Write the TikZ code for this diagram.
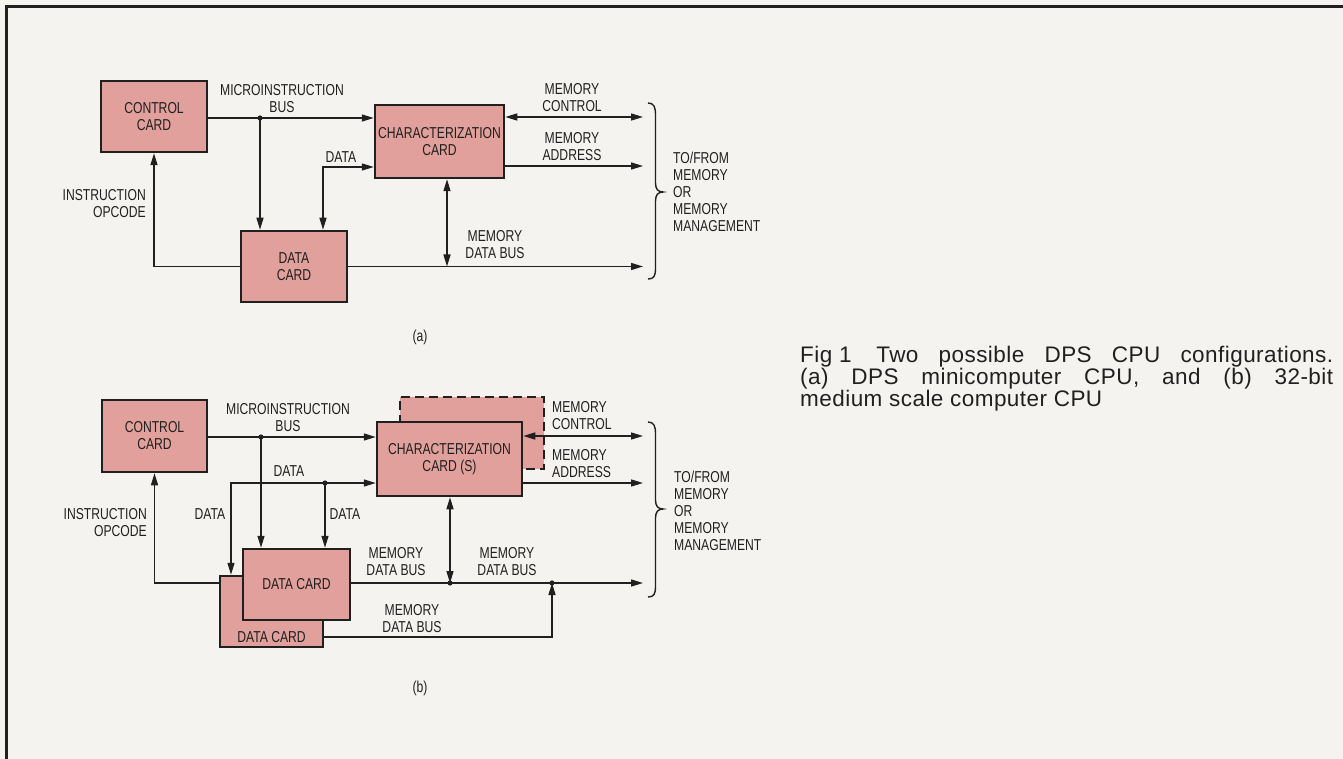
\documentclass[tikz,border=0pt]{standalone}
\usepackage{fontspec}
\setmainfont{Liberation Sans}
\newfontfamily\labfont[FakeStretch=0.77]{Liberation Sans}
\newfontfamily\capfont[LetterSpace=2]{Liberation Sans}
\usetikzlibrary{arrows.meta}
\definecolor{bg}{HTML}{F5F3F0}
\definecolor{cardfill}{HTML}{E1A09B}
\definecolor{ink}{HTML}{202020}
\begin{document}
\begin{tikzpicture}[x=1pt,y=-1pt,
  cardbox/.style={draw=ink,fill=cardfill,line width=2.5pt,inner sep=0pt,align=center,
    font=\labfont\fontsize{15.8}{17}\selectfont,text=ink},
  lab/.style={font=\labfont\fontsize{15.8}{17}\selectfont,text=ink,inner sep=0pt,align=center},
  wire/.style={draw=ink,line width=1.4pt},
  arr/.style={wire,-{Triangle[length=12pt,width=7pt]}},
  barr/.style={wire,{Triangle[length=12pt,width=7pt]}-{Triangle[length=12pt,width=7pt]}},
  brc/.style={draw=ink,line width=1.4pt},
  dot/.style={fill=ink}
]
\useasboundingbox (0,0) rectangle (1343,759);
\fill[bg] (0,0) rectangle (1343,759);
\draw[ink,line width=3pt] (6,759) -- (6,7) -- (1343,7);

% ================= (a) =================
\node[cardbox,minimum width=106pt,minimum height=71pt] (ca) at (154,116.5) {CONTROL\\CARD};
\node[cardbox,minimum width=129pt,minimum height=73pt] (cha) at (439.5,141.5) {CHARACTERIZATION\\CARD};
\node[cardbox,minimum width=106pt,minimum height=71pt] (da) at (294,266.5) {DATA\\CARD};

\coordinate (mdA) at (260,118);
\draw[arr] (ca.east|-mdA) -- (cha.west|-mdA);
\draw[arr] (mdA) -- (mdA|-da.north);
\fill[dot] (mdA) circle[radius=2.6pt];

\coordinate (ddA) at (323,167);
\draw[barr] (cha.west|-ddA) -- (ddA) -- (ddA|-da.north);

\draw[arr] (da.west) -| (ca.south);

\coordinate (mdbA) at (643,266.5);
\coordinate (vA) at (447,266.5);
\draw[arr] (da.east) -- (mdbA);
\draw[barr] (vA|-cha.south) -- (vA);

\coordinate (mcA) at (643,117);
\coordinate (maA) at (643,166);
\draw[barr] (cha.east|-mcA) -- (mcA);
\draw[arr] (cha.east|-maA) -- (maA);

\draw[brc] (648,103) .. controls (654,103) and (655.5,107) .. (655.5,115) -- (655.5,183)
  .. controls (655.5,189) and (658,192) .. (663,192)
  .. controls (658,192) and (655.5,195) .. (655.5,201) -- (655.5,268)
  .. controls (655.5,276) and (654,279) .. (648,279);

\node[lab] (lmibA) at (282,99) {MICROINSTRUCTION\\BUS};
\node[lab] (ldataA) at (341,157) {DATA};
\node[lab,align=right,anchor=east] (lopA) at (146,204) {INSTRUCTION\\OPCODE};
\node[lab] (lmdbA) at (495,245) {MEMORY\\DATA BUS};
\node[lab] (lmcA) at (572,98) {MEMORY\\CONTROL};
\node[lab] (lmaA) at (572,147) {MEMORY\\ADDRESS};
\node[lab,align=left,anchor=west] (ltoA) at (673,192) {TO/FROM\\MEMORY\\OR\\MEMORY\\MANAGEMENT};
\node[lab] (capA) at (420,337) {(a)};

% ================= (b) =================
\node[cardbox,minimum width=105pt,minimum height=72pt] (cb) at (154.5,436) {CONTROL\\CARD};
\node[cardbox,dashed,dash pattern=on 9pt off 5pt,minimum width=144pt,minimum height=72pt] (chb2) at (472,433) {};
\node[cardbox,minimum width=145pt,minimum height=74pt] (chb) at (449.5,459) {CHARACTERIZATION\\CARD (S)};
\node[cardbox,minimum width=103pt,minimum height=71pt,
  label={[lab,anchor=south,inner sep=5pt]south:DATA CARD}] (db2) at (271.5,611.5) {};
\node[cardbox,minimum width=107pt,minimum height=71pt] (db1) at (296.5,584.5) {DATA CARD};

\coordinate (mdB) at (261,437);
\draw[arr] (cb.east|-mdB) -- (chb.west|-mdB);
\draw[arr] (mdB) -- (mdB|-db1.north);
\fill[dot] (mdB) circle[radius=2.6pt];

\coordinate (dlB) at (231,483);
\coordinate (ddB) at (325,483);
\draw[barr] (chb.west|-dlB) -- (dlB) -- (dlB|-db2.north);
\draw[arr] (ddB) -- (ddB|-db1.north);
\fill[dot] (ddB) circle[radius=2.6pt];

\coordinate (ocB) at (156,583);
\draw[arr] (db2.west|-ocB) -| (cb.south);

\coordinate (mdbB) at (643,583);
\coordinate (vB) at (450,583);
\coordinate (jB) at (552,583);
\draw[arr] (db1.east|-mdbB) -- (mdbB);
\draw[barr] (vB|-chb.south) -- (vB);
\fill[dot] (vB) circle[radius=2.6pt];
\coordinate (b2B) at (552,637);
\draw[arr] (db2.east|-b2B) -- (b2B) -- (jB);
\fill[dot] (jB) circle[radius=2.6pt];

\coordinate (mcB) at (643,436);
\coordinate (maB) at (643,483);
\draw[barr] (chb.east|-mcB) -- (mcB);
\draw[arr] (chb.east|-maB) -- (maB);

\draw[brc] (648,422) .. controls (654,422) and (655.5,426) .. (655.5,434) -- (655.5,500)
  .. controls (655.5,506) and (658,509) .. (663,509)
  .. controls (658,509) and (655.5,512) .. (655.5,518) -- (655.5,586)
  .. controls (655.5,594) and (654,597) .. (648,597);

\node[lab] (lmibB) at (288,418) {MICROINSTRUCTION\\BUS};
\node[lab] (ldataB1) at (289,471) {DATA};
\node[lab] (ldataB2) at (210,514) {DATA};
\node[lab] (ldataB3) at (345,514) {DATA};
\node[lab,align=right,anchor=east] (lopB) at (147,523) {INSTRUCTION\\OPCODE};
\node[lab] (lmdbB1) at (396,562) {MEMORY\\DATA BUS};
\node[lab] (lmdbB2) at (507,562) {MEMORY\\DATA BUS};
\node[lab] (lmdbB3) at (412,619) {MEMORY\\DATA BUS};
\node[lab,align=left,anchor=west] (lmcB) at (552,416) {MEMORY\\CONTROL};
\node[lab,align=left,anchor=west] (lmaB) at (552,464) {MEMORY\\ADDRESS};
\node[lab,align=left,anchor=west] (ltoB) at (674,511) {TO/FROM\\MEMORY\\OR\\MEMORY\\MANAGEMENT};
\node[lab] (capB) at (420,688) {(b)};

% ================= caption =================
\node[anchor=north west,inner sep=0pt,text width=533pt,align=justify,text=ink,
  font=\capfont\fontsize{22.5}{20.5}\selectfont] (fig) at (800,346)
  {\mbox{Fig 1}\hspace*{1.1em}Two possible DPS CPU configurations.\linebreak (a) DPS minicomputer CPU, and (b) 32-bit\linebreak medium scale computer CPU};
\end{tikzpicture}
\end{document}
